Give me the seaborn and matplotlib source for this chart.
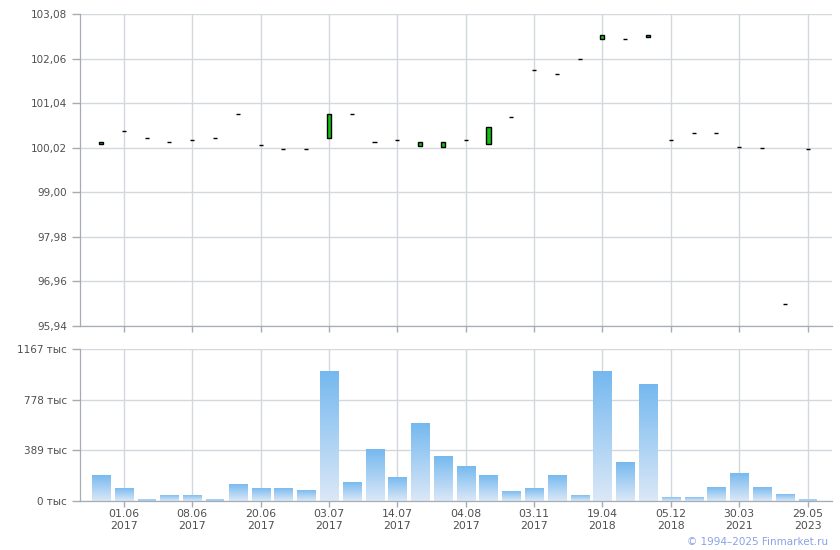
import numpy as np
import matplotlib
matplotlib.use('Agg')
import matplotlib.pyplot as plt
from matplotlib.colors import LinearSegmentedColormap
import seaborn as sns

# price candles (open / close), index = trading date
opens = [100.11, 100.40, 100.25, 100.15, 100.20, 100.25, 100.80, 100.08,
         99.99, 99.99, 100.24, 100.79, 100.15, 100.20, 100.07, 100.03,
         100.20, 100.10, 100.72, 101.80, 101.71, 102.05, 102.51, 102.51,
         102.55, 100.20, 100.36, 100.36, 100.03, 100.01, 96.44, 99.99]
closes = [100.14, 100.40, 100.25, 100.15, 100.20, 100.25, 100.80, 100.08,
          99.99, 99.99, 100.79, 100.79, 100.15, 100.20, 100.15, 100.15,
          100.20, 100.49, 100.72, 101.80, 101.71, 102.05, 102.60, 102.51,
          102.60, 100.20, 100.36, 100.36, 100.03, 100.01, 96.44, 99.99]
# volume, thousands
volumes = [202, 102, 12, 49, 49, 12, 133, 102, 102, 87, 1000, 148, 402, 187, 601, 348,
           271, 202, 79, 102, 202, 49, 1000, 302, 901, 33, 33, 110, 217, 110, 56, 12]

tick_pos = [1, 4, 7, 10, 13, 16, 19, 22, 25, 28, 31]
tick_labels = ['01.06\n2017', '08.06\n2017', '20.06\n2017', '03.07\n2017', '14.07\n2017',
               '04.08\n2017', '03.11\n2017', '19.04\n2018', '05.12\n2018', '30.03\n2021',
               '29.05\n2023']
price_ticks = [95.94, 96.96, 97.98, 99.00, 100.02, 101.04, 102.06, 103.08]
volume_ticks = [0, 389, 778, 1167]

sns.set_theme(style='whitegrid')
plt.rcParams['font.family'] = ['DejaVu Sans']

grid_c = '#d3d8dc'
spine_c = '#a7abb3'
text_c = '#4f4f4f'

fig = plt.figure(figsize=(8.4, 5.5), dpi=100)
fig.patch.set_facecolor('white')
ax1 = fig.add_axes([79.5 / 840, 1 - 326 / 550, 752 / 840, 312 / 550])
ax2 = fig.add_axes([79.5 / 840, 1 - 501 / 550, 752 / 840, 152 / 550])

idx = np.arange(len(opens))
xlim = (-0.944, 32.05)

# candles
o = np.array(opens)
c = np.array(closes)
ax1.bar(idx, c - o, bottom=o, width=0.18, color='#11c011', edgecolor='black', linewidth=1.0, zorder=3)

# volume bars with vertical gradient
sns.barplot(x=idx, y=volumes, ax=ax2, width=0.79, color='#a6cff4', saturation=1, zorder=2)
cmap = LinearSegmentedColormap.from_list('vol', ['#dbe8f7', '#74b8ef'])
grad = np.linspace(0, 1, 256).reshape(-1, 1)
for p in ax2.patches:
    x0, y0 = p.get_x(), p.get_y()
    w, h = p.get_width(), p.get_height()
    p.set_edgecolor('none')
    if h < 20:
        continue
    im = ax2.imshow(grad, cmap=cmap, origin='lower', aspect='auto',
                    extent=(x0, x0 + w, y0, y0 + h), zorder=2.2)
    im.set_clip_path(p)

for ax in (ax1, ax2):
    ax.set_facecolor('white')
    ax.set_xlim(*xlim)
    ax.set_xticks(tick_pos)
    ax.grid(True, color=grid_c, linewidth=1.0)
    ax.set_axisbelow(True)
    for s in ('top', 'right'):
        ax.spines[s].set_visible(False)
    for s in ('left', 'bottom'):
        ax.spines[s].set_visible(True)
        ax.spines[s].set_color(spine_c)
        ax.spines[s].set_linewidth(0.9)
    ax.tick_params(axis='y', length=6, width=1, color=spine_c, labelsize=7.5, labelcolor=text_c, pad=3, left=True)
    ax.tick_params(axis='x', length=4.5, width=1, color=spine_c, labelsize=7.8, labelcolor=text_c, pad=1.5, bottom=True)
    ax.set_xlabel('')
    ax.set_ylabel('')

ax1.set_ylim(price_ticks[0], price_ticks[-1])
ax1.set_yticks(price_ticks)
ax1.set_yticklabels([f'{v:.2f}'.replace('.', ',') for v in price_ticks])
ax1.set_xticklabels([])

ax2.set_ylim(volume_ticks[0], volume_ticks[-1])
ax2.set_yticks(volume_ticks)
ax2.set_yticklabels([f'{v} тыс' for v in volume_ticks])
ax2.set_xticklabels(tick_labels, linespacing=1.25)

fig.text(828 / 840, 1 - 542 / 550, '© 1994–2025 Finmarket.ru', ha='right', va='center',
         fontsize=7.5, color='#88a2e8')

fig.savefig('out.png', dpi=100, facecolor='white')
